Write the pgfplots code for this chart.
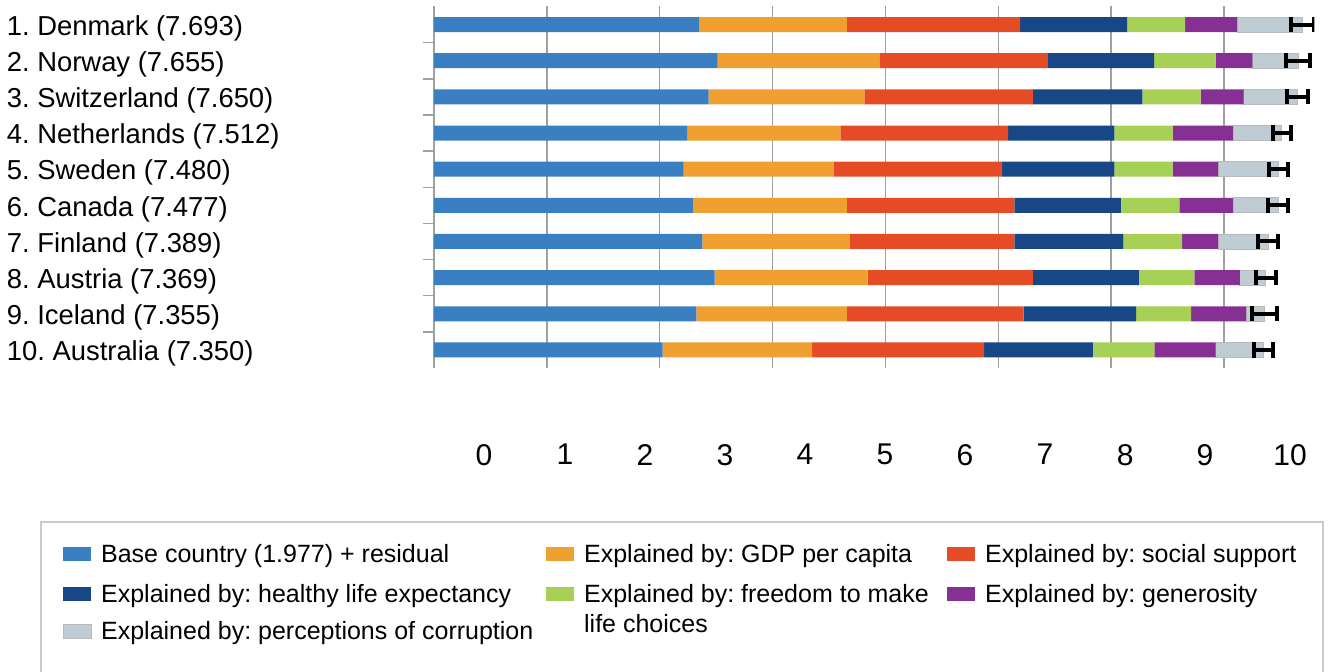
\documentclass[border=0pt]{standalone}
\usepackage{fontspec}
\setmainfont{Liberation Sans}
\usepackage{pgfplots}
\usepackage{pgfplotstable}
\pgfplotsset{compat=1.18}
\frenchspacing

\definecolor{cBase}{RGB}{58,127,193}
\definecolor{cGdp}{RGB}{240,160,48}
\definecolor{cSoc}{RGB}{229,75,36}
\definecolor{cHle}{RGB}{23,71,133}
\definecolor{cFree}{RGB}{166,208,86}
\definecolor{cGen}{RGB}{134,48,147}
\definecolor{cCorr}{RGB}{192,204,212}
\definecolor{cGrid}{RGB}{160,160,160}

\pgfplotsset{
  boxlegend/.style={legend image code/.code={
      \fill[##1] (0pt,1pt) rectangle (14pt,8pt);
      \path[draw=none, fill=none] (0pt,0pt) -- (19pt,0pt);}},
  % last legend row: the image reaches lower so the frame's bottom edge falls off the page
  deeplegend/.style={legend image code/.code={
      \fill[##1] (0pt,1pt) rectangle (14pt,8pt);
      \path[draw=none, fill=none] (0pt,0pt) -- (19pt,0pt) -- (19pt,-18pt);}},
}

% y: 9 = Denmark ... 0 = Australia
\pgfplotstableread{
y base gdp social health freedom generosity corruption err
9 2.351 1.306 1.535 0.948 0.514 0.461 0.578 0.10
8 2.514 1.432 1.492 0.942 0.546 0.325 0.404 0.11
7 2.434 1.379 1.492 0.971 0.517 0.381 0.476 0.09
6 2.242 1.358 1.486 0.942 0.517 0.534 0.433 0.08
5 2.212 1.326 1.495 0.995 0.517 0.402 0.533 0.085
4 2.298 1.359 1.485 0.943 0.519 0.475 0.398 0.09
3 2.377 1.303 1.462 0.966 0.520 0.319 0.442 0.09
2 2.487 1.356 1.462 0.939 0.493 0.402 0.230 0.09
1 2.324 1.333 1.568 0.995 0.488 0.487 0.160 0.11
0 2.026 1.325 1.524 0.962 0.546 0.541 0.426 0.085
}\happy

\begin{document}
\begin{tikzpicture}
\begin{axis}[
  name=main,
  scale only axis, width=440.2pt, height=180.75pt,
  xbar stacked, bar width=7.5pt,
  xmin=0, xmax=7.8, ymin=-0.5, ymax=9.5,
  axis line style={draw=none},
  xtick={0,...,7}, xticklabels={},
  xmajorgrids, grid style={cGrid, line width=0.75pt},
  extra x ticks={0.443,1.161,1.870,2.578,3.287,3.996,4.705,5.414,6.123,6.831,7.585},
  extra x tick labels={0,1,2,3,4,5,6,7,8,9,10},
  extra x tick style={grid=none},
  xticklabel style={font=\fontsize{15}{18}\selectfont, yshift=-34.5pt},
  major tick length=0pt,
  ytick={0,...,9},
  yticklabels={10. Australia (7.350),9. Iceland (7.355),8. Austria (7.369),7. Finland (7.389),6. Canada (7.477),5. Sweden (7.480),4. Netherlands (7.512),3. Switzerland (7.650),2. Norway (7.655),1. Denmark (7.693)},
  yticklabel style={anchor=base west, inner sep=0pt, xshift=-213.75pt, yshift=-5.4pt,
    font=\fontsize{13.7}{16}\selectfont},
  minor ytick={0.5,1.5,...,8.5},
  minor tick length=5.5pt, tick align=outside, ytick pos=left,
  minor y tick style={cGrid, line width=0.75pt},
  legend columns=3,
  legend style={at={(-0.4475,-0.4232)}, anchor=north west, draw=gray!40, line width=0.75pt,
    inner xsep=11pt, inner ysep=11.5pt, row sep=8pt, column sep=0pt,
    font=\fontsize{12.5}{15}\selectfont, nodes={inner sep=0pt}, cells={anchor=base west}},
]
\addplot[fill=cBase, draw=none, boxlegend] table[x=base, y=y] {\happy};
\addlegendentry{\makebox[222.5pt][l]{Base country (1.977) + residual}}
\addplot[fill=cGdp, draw=none, boxlegend] table[x=gdp, y=y] {\happy};
\addlegendentry{\makebox[181.5pt][l]{Explained by: GDP per capita}}
\addplot[fill=cSoc, draw=none, boxlegend] table[x=social, y=y] {\happy};
\addlegendentry{\makebox[158pt][l]{Explained by: social support}}
\addplot[fill=cHle, draw=none, boxlegend] table[x=health, y=y] {\happy};
\addlegendentry{\makebox[222.5pt][l]{Explained by: healthy life expectancy}}
\addplot[fill=cFree, draw=none, boxlegend] table[x=freedom, y=y] {\happy};
\addlegendentry{\makebox[181.5pt][l]{\strut\smash{\parbox[t]{181.5pt}{Explained by: freedom to make\newline life choices}}}}
\addplot[fill=cGen, draw=none, boxlegend] table[x=generosity, y=y] {\happy};
\addlegendentry{\makebox[158pt][l]{Explained by: generosity}}
\addplot[fill=cCorr, draw=gray!55, line width=0.4pt, deeplegend,
  error bars/.cd, x dir=both, x explicit,
  error bar style={black, line width=2pt},
  error mark options={black, line width=2pt, mark size=3.8pt, rotate=90}]
  table[x=corruption, y=y, x error=err] {\happy};
\addlegendentry{\makebox[222.5pt][l]{Explained by: perceptions of corruption}}
\end{axis}
\pgfresetboundingbox
\path[use as bounding box] ([shift={(-217pt,-151.5pt)}]main.south west) rectangle ([shift={(448pt,184pt)}]main.south west);
\end{tikzpicture}
\end{document}
